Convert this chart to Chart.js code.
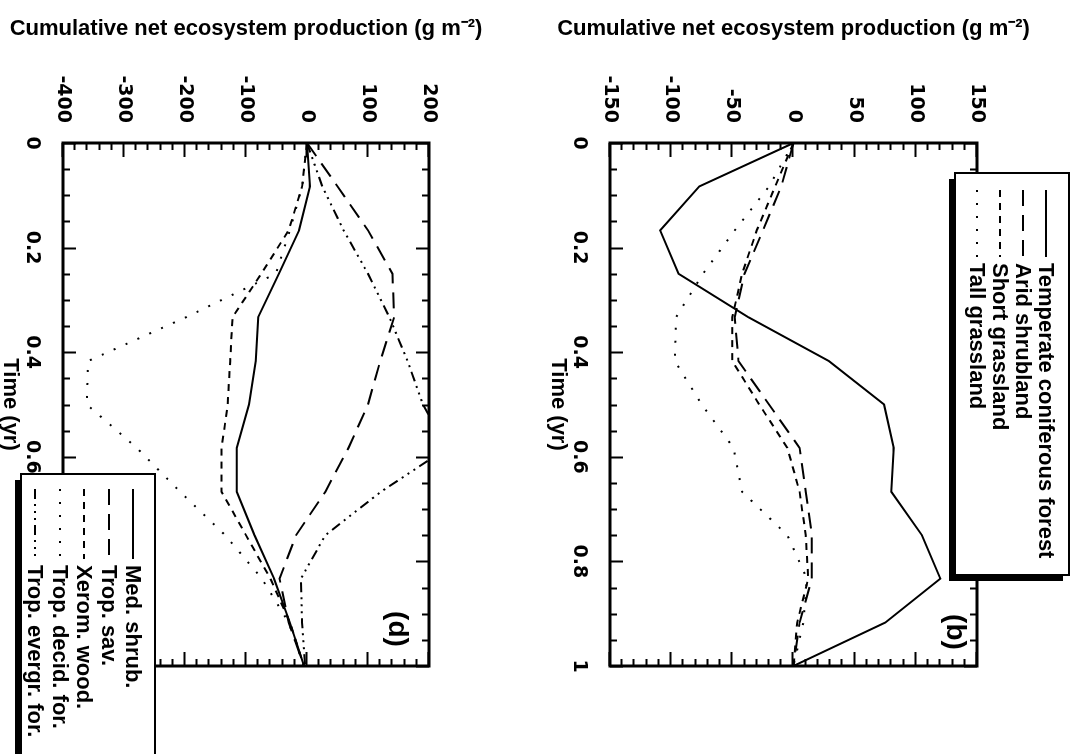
<!DOCTYPE html>
<html>
<head>
<meta charset="utf-8">
<script src="https://cdn.jsdelivr.net/npm/chart.js@4/dist/chart.umd.min.js"></script>
<style>
html, body { margin: 0; padding: 0; overflow: hidden; background: #fff; }
/* the figure is laid out upright, then turned a quarter clockwise */
#page {
    position: absolute; left: 0; top: 0;
    width: 754px; height: 1101px;
    transform-origin: 0 0;
    transform: translate(1083px, 0) rotate(90deg);
}
#page canvas { position: absolute; left: 0; }
</style>
</head>
<body>
<div id="page">
    <canvas id="panelB" width="754" height="541" style="top:0"></canvas>
    <canvas id="panelD" width="754" height="560" style="top:541px"></canvas>
</div>
<script>
// monthly time steps (yr)
const months = [0, 0.083, 0.167, 0.25, 0.333, 0.417, 0.5, 0.583, 0.667, 0.75, 0.833, 0.917, 1];

// panel (b): temperate biomes, cumulative NEP (g m-2)
const bNames = ["Temperate coniferous forest", "Arid shrubland", "Short grassland", "Tall grassland"];
const tempConifer = [0, -77, -109, -94, -37, 29, 74, 82, 80, 105, 120, 75, 0];
const aridShrub   = [0, -10, -25, -40, -48, -45, -20, 5, 10, 15, 15, 5, 0];
const shortGrass  = [0, -15, -30, -42, -50, -50, -28, -5, 5, 10, 12, 3, 0];
const tallGrass   = [0, -20, -48, -74, -96, -97, -75, -49, -42, -5, 11, 8, 0];

// panel (d): tropical / mediterranean biomes
const dNames = ["Med. shrub.", "Trop. sav.", "Xerom. wood.", "Trop. decid. for.", "Trop. evergr. for."];
const medShrub    = [0, 5, -13, -46, -80, -84, -95, -115, -115, -86, -54, -28, -5];
const tropSav     = [0, 50, 100, 140, 143, 120, 100, 68, 30, -18, -45, -30, -5];
const xeromWood   = [0, -8, -30, -75, -122, -126, -130, -140, -140, -100, -60, -28, -5];
const tropDecid   = [0, -8, -28, -51, -198, -359, -361, -279, -208, -134, -74, -30, -5];
const tropEvergr  = [0, 25, 60, 100, 135, 165, 190, 230, 121, 30, -10, -8, -3];

const bTicks = { min: -150, max: 150, step: 50 };
const dTicks = { min: -400, max: 200, step: 100 };

const SOLID = [], LONG = [16, 9], DASH = [7, 6], DOT = [2, 11], DASH3DOT = [10, 5, 2, 5, 2, 5, 2, 5];

const tickFont = { family: "DejaVu Sans", weight: "bold", size: 19 };
const textFont = { family: "Liberation Sans", weight: "bold", size: 22, lineHeight: 1.2 };

// box with inward major/minor ticks on all four sides
const framePlugin = {
    id: "frame",
    afterDatasetsDraw(chart) {
        const { ctx, chartArea: a, scales: { x, y } } = chart;
        ctx.save();
        ctx.strokeStyle = "#000";
        ctx.setLineDash([]);
        ctx.lineWidth = 2;
        const xs = x.options.ticks.stepSize, ys = y.options.ticks.stepSize;
        for (let i = 0; i <= Math.round((x.max - x.min) / (xs / 4)); i++) {
            const v = x.min + i * xs / 4;
            const px = Math.round(x.getPixelForValue(v)) + 0.5;
            const len = i % 4 === 0 ? 13 : 7;
            ctx.beginPath();
            ctx.moveTo(px, a.bottom); ctx.lineTo(px, a.bottom - len);
            ctx.moveTo(px, a.top); ctx.lineTo(px, a.top + len);
            ctx.stroke();
        }
        for (let i = 0; i <= Math.round((y.max - y.min) / (ys / 5)); i++) {
            const v = y.min + i * ys / 5;
            const py = Math.round(y.getPixelForValue(v)) + 0.5;
            const len = i % 5 === 0 ? 14 : 7;
            ctx.beginPath();
            ctx.moveTo(a.left, py); ctx.lineTo(a.left + len, py);
            ctx.moveTo(a.right, py); ctx.lineTo(a.right - len, py);
            ctx.stroke();
        }
        ctx.lineWidth = 3;
        ctx.strokeRect(a.left, a.top, a.right - a.left, a.bottom - a.top);
        ctx.restore();
    }
};

// boxed legend with a drop shadow, plus the panel tag
const boxLegendPlugin = {
    id: "boxLegend",
    afterDraw(chart, args, o) {
        const { ctx } = chart;
        ctx.save();
        ctx.font = `bold ${o.tag.size}px "Liberation Sans"`;
        ctx.fillStyle = "#000";
        ctx.textAlign = "center";
        ctx.textBaseline = "middle";
        ctx.fillText(o.tag.text, o.tag.x, o.tag.y);

        const b = o.box;
        ctx.fillStyle = "#000";
        ctx.fillRect(b.x + 6, b.y + 6, b.w, b.h);
        ctx.fillStyle = "#fff";
        ctx.fillRect(b.x, b.y, b.w, b.h);
        ctx.strokeStyle = "#000";
        ctx.lineWidth = 2;
        ctx.strokeRect(b.x, b.y, b.w, b.h);

        ctx.font = `bold ${textFont.size}px "Liberation Sans"`;
        ctx.textAlign = "left";
        ctx.fillStyle = "#000";
        chart.data.datasets.forEach((ds, i) => {
            const ry = o.rows[i];
            ctx.beginPath();
            ctx.setLineDash(ds.borderDash);
            ctx.lineWidth = 2;
            ctx.moveTo(o.sample[0], ry);
            ctx.lineTo(o.sample[1], ry);
            ctx.stroke();
            ctx.setLineDash([]);
            ctx.fillText(ds.label, o.textX, ry + 1);
        });
        ctx.restore();
    }
};

function series(label, values, dash) {
    return {
        label,
        data: months.map((t, i) => ({ x: t, y: values[i] })),
        borderColor: "#000",
        borderWidth: 2,
        borderDash: dash,
        pointRadius: 0,
        tension: 0,
        fill: false
    };
}

const plainNumber = v => String(Number(v.toFixed(2)));

function panel(id, datasets, range, pad, xAxisHeight, titleBottom, legend) {
    return new Chart(document.getElementById(id), {
        type: "line",
        data: { datasets },
        plugins: [framePlugin, boxLegendPlugin],
        options: {
            responsive: false,
            animation: false,
            layout: { padding: pad },
            plugins: {
                legend: { display: false },
                tooltip: { enabled: false },
                boxLegend: legend
            },
            scales: {
                x: {
                    type: "linear", min: 0, max: 1,
                    grid: { display: false, drawTicks: false },
                    border: { display: false },
                    ticks: { stepSize: 0.2, color: "#000", font: tickFont, padding: 20, maxRotation: 0, callback: plainNumber },
                    title: { display: true, text: "Time (yr)", color: "#000", font: textFont, padding: { top: 0, bottom: titleBottom } },
                    afterFit: s => { s.height = xAxisHeight; }
                },
                y: {
                    type: "linear", min: range.min, max: range.max,
                    grid: { display: false, drawTicks: false },
                    border: { display: false },
                    ticks: { stepSize: range.step, color: "#000", font: tickFont, padding: 20, callback: plainNumber },
                    title: { display: true, text: "Cumulative net ecosystem production (g m⁻²)", color: "#000", font: textFont, padding: { top: 16, bottom: 0 } },
                    afterFit: s => { s.width = 143; }
                }
            }
        }
    });
}

panel("panelB", [
    series(bNames[0], tempConifer, SOLID),
    series(bNames[1], aridShrub, LONG),
    series(bNames[2], shortGrass, DASH),
    series(bNames[3], tallGrass, DOT)
], bTicks, { top: 106, right: 88, left: 0, bottom: 0 }, 68, 3, {
    box: { x: 173, y: 14, w: 402, h: 114 },
    rows: [37, 60, 83, 106],
    sample: [190, 257],
    textX: 263,
    tag: { text: "(b)", x: 632, y: 128, size: 28 }
});

panel("panelD", [
    series(dNames[0], medShrub, SOLID),
    series(dNames[1], tropSav, LONG),
    series(dNames[2], xeromWood, DASH),
    series(dNames[3], tropDecid, DOT),
    series(dNames[4], tropEvergr, DASH3DOT)
], dTicks, { top: 113, right: 88, left: 0, bottom: 0 }, 81, 15, {
    box: { x: 474, y: 387, w: 320, h: 134 },
    rows: [409, 433, 458, 482, 507],
    sample: [489, 559],
    textX: 565,
    tag: { text: "(d)", x: 629, y: 145, size: 28 }
});
</script>
</body>
</html>
